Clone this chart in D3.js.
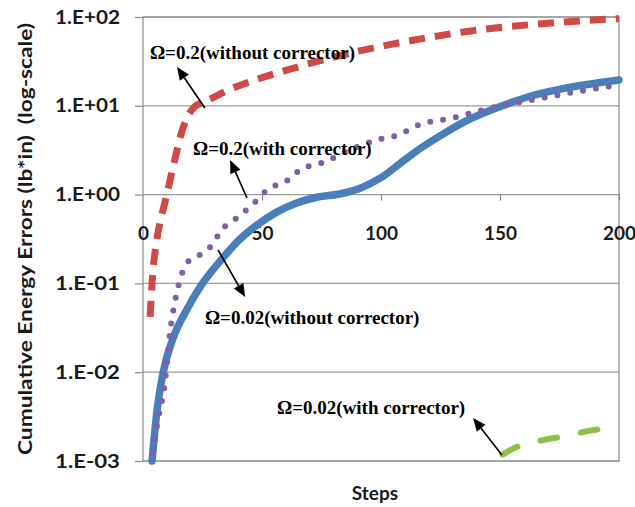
<!DOCTYPE html>
<html>
<head>
<meta charset="utf-8">
<script src="https://cdn.jsdelivr.net/npm/d3@7"></script>
<style>
  body { margin: 0; background: #fff; }
  svg { display: block; }
  .axis text { font-family: Lato, "Open Sans", sans-serif; font-weight: 700; font-size: 19px; fill: #1a1a1a; }
  .note { font-family: "Liberation Serif", "Times New Roman", serif; font-weight: 700; font-size: 19px; fill: #000; }
</style>
</head>
<body>
<svg id="chart"></svg>
<script>
// chart consts
const margin = {left: 143, right: 16, top: 17, bottom: 46};
const width = 635;
const height = 507;

const yTicks = [1e-3, 1e-2, 1e-1, 1e0, 1e1, 1e2];
const xTicks = [0, 50, 100, 150, 200];

// series: [step, cumulative error]
const redNoCorr02 = [[3, 0.042], [3.8, 0.1], [5.8, 0.31], [8, 0.6], [10, 1.0], [13.4, 2.5], [16.4, 5.2],
  [19, 7.8], [22, 9.9], [25, 10.9], [29, 12.2], [36, 15.1], [47, 19.5], [60, 25], [72, 31], [91, 41.5],
  [114, 55], [140, 71], [170, 85], [200, 96]];
const purpleCorr02 = [[4.2, 0.00126], [6.3, 0.0029], [9.2, 0.0076], [11.3, 0.0275], [13.4, 0.062], [16.4, 0.13],
  [18.9, 0.175], [24, 0.21], [29, 0.27], [33, 0.4], [38.7, 0.53], [43.7, 0.68], [48, 0.87], [52, 1.12],
  [60.5, 1.43], [66, 1.9], [75.6, 2.3], [87, 3.2], [98, 4.1], [109, 4.9], [114, 5.8], [131, 7.4],
  [148, 9.7], [163, 11.6], [181.5, 14.3], [200, 17.2]];
const blueNoCorr002 = [[3.8, 0.001], [5.9, 0.00372], [8.4, 0.00977], [12.6, 0.024], [18.5, 0.0513],
  [24.5, 0.0955], [32.4, 0.178], [40.8, 0.316], [48, 0.457], [56, 0.631], [64, 0.794], [73, 0.933],
  [83, 1.023], [91, 1.175], [100, 1.55], [108, 2.24], [116, 3.24], [125, 4.62], [135, 6.6], [149, 9.55],
  [163, 12.9], [177, 15.7], [200, 19.5]];
const greenCorr002 = [[151, 0.00118], [158, 0.00148], [169, 0.00174], [177, 0.0019], [188, 0.0022], [198, 0.0024]];

// annotations: text anchor and arrow tail -> tip, in data units
const notes = [
  {text: "Ω=0.2(without corrector)",  at: [2.9, 33.6],   tail: [26, 9.44],     tip: [14.3, 27.4]},
  {text: "Ω=0.2(with corrector)",     at: [21, 2.79],    tail: [43.7, 0.916],  tip: [36.6, 2.45]},
  {text: "Ω=0.02(without corrector)", at: [26, 0.0349],  tail: [31.5, 0.238],  tip: [42.9, 0.0703]},
  {text: "Ω=0.02(with corrector)",    at: [56.3, 0.00338], tail: [150.8, 0.00117], tip: [138.7, 0.00305]}
];

const x = d3.scaleLinear().domain([0, 200]).range([margin.left, width - margin.right]);
const y = d3.scaleLog().domain([1e-3, 1e2]).range([height - margin.bottom, margin.top]);

const svg = d3.select('#chart').attr('width', width).attr('height', height);

// grid lines
svg.append('g')
  .selectAll('line')
  .data(yTicks)
  .join('line')
  .attr('x1', x(0)).attr('x2', x(200))
  .attr('y1', d => y(d)).attr('y2', d => y(d))
  .attr('stroke', '#9a9a9a')
  .attr('stroke-width', 1.2);

// plot frame
svg.append('rect')
  .attr('x', x(0)).attr('y', y(1e2))
  .attr('width', x(200) - x(0)).attr('height', y(1e-3) - y(1e2))
  .attr('fill', 'none')
  .attr('stroke', '#8a8a8a')
  .attr('stroke-width', 1.2);

var expFormat = function(v) {
  var e = Math.round(Math.log10(v));
  return '1.E' + (e < 0 ? '-' : '+') + String(Math.abs(e)).padStart(2, '0');
};

// y axis
var yAxis = svg.append('g')
  .attr('class', 'axis')
  .attr('transform', `translate(${x(0)},0)`)
  .call(d3.axisLeft(y).tickValues(yTicks).tickFormat(expFormat).tickSize(8).tickPadding(15));
yAxis.select('.domain').remove();
yAxis.selectAll('line').attr('stroke', '#8a8a8a').attr('stroke-width', 1.2);
yAxis.selectAll('text').attr('textLength', 65).attr('lengthAdjust', 'spacingAndGlyphs');

// x axis crosses at 1.0 (Excel log scale)
var xAxis = svg.append('g')
  .attr('class', 'axis')
  .attr('transform', `translate(0,${y(1)})`)
  .call(d3.axisBottom(x).tickValues(xTicks).tickFormat(d3.format('d')).tickSize(6).tickPadding(26));
xAxis.select('.domain').remove();
xAxis.selectAll('line').attr('stroke', '#8a8a8a').attr('stroke-width', 1.2);
xAxis.selectAll('.tick').filter(d => d === 0).select('line').remove();

// axis titles
svg.append('text')
  .attr('x', 375).attr('y', 500)
  .attr('text-anchor', 'middle')
  .style('font-family', 'Lato, "Open Sans", sans-serif')
  .style('font-weight', 700).style('font-size', '19px').style('fill', '#1a1a1a')
  .text('Steps');

svg.append('text')
  .attr('transform', `translate(32,${(y(1e2) + y(1e-3)) / 2}) rotate(-90)`)
  .attr('text-anchor', 'middle')
  .attr('textLength', 432).attr('lengthAdjust', 'spacingAndGlyphs')
  .style('white-space', 'pre')
  .style('font-family', 'Lato, "Open Sans", sans-serif')
  .style('font-weight', 700).style('font-size', '19px').style('fill', '#1a1a1a')
  .text('Cumulative Energy Errors (lb*in)  (log-scale)');

// series
var line = d3.line()
  .x(d => x(d[0]))
  .y(d => y(d[1]))
  .curve(d3.curveMonotoneX);

const series = [
  {data: blueNoCorr002, color: '#4a7ebb', w: 7.5, dash: null, cap: 'round'},
  {data: purpleCorr02, color: '#7f5fa8', w: 6, dash: '0 13', cap: 'round'},
  {data: redNoCorr02, color: '#cf4a47', w: 7, dash: '16 10', cap: 'butt'},
  {data: greenCorr002, color: '#8dc044', w: 6, dash: '17 24', cap: 'round'}
];

svg.append('g')
  .selectAll('path')
  .data(series)
  .join('path')
  .attr('fill', 'none')
  .attr('stroke', d => d.color)
  .attr('stroke-width', d => d.w)
  .attr('stroke-dasharray', d => d.dash)
  .attr('stroke-linecap', d => d.cap)
  .attr('stroke-linejoin', 'round')
  .attr('d', d => line(d.data));

// annotations
var noteG = svg.append('g');
for (var n of notes) {
  noteG.append('text')
    .attr('class', 'note')
    .attr('x', x(n.at[0])).attr('y', y(n.at[1]))
    .text(n.text);

  var x0 = x(n.tail[0]), y0 = y(n.tail[1]), x1 = x(n.tip[0]), y1 = y(n.tip[1]);
  var ang = Math.atan2(y1 - y0, x1 - x0);
  var headLen = 13, headW = 5.5;
  var bx = x1 - headLen * Math.cos(ang), by = y1 - headLen * Math.sin(ang);
  noteG.append('line')
    .attr('x1', x0).attr('y1', y0).attr('x2', bx).attr('y2', by)
    .attr('stroke', '#000').attr('stroke-width', 1.6);
  noteG.append('path')
    .attr('d', `M${x1},${y1}L${bx + headW * Math.sin(ang)},${by - headW * Math.cos(ang)}L${bx - headW * Math.sin(ang)},${by + headW * Math.cos(ang)}Z`)
    .attr('fill', '#000');
}
</script>
</body>
</html>
